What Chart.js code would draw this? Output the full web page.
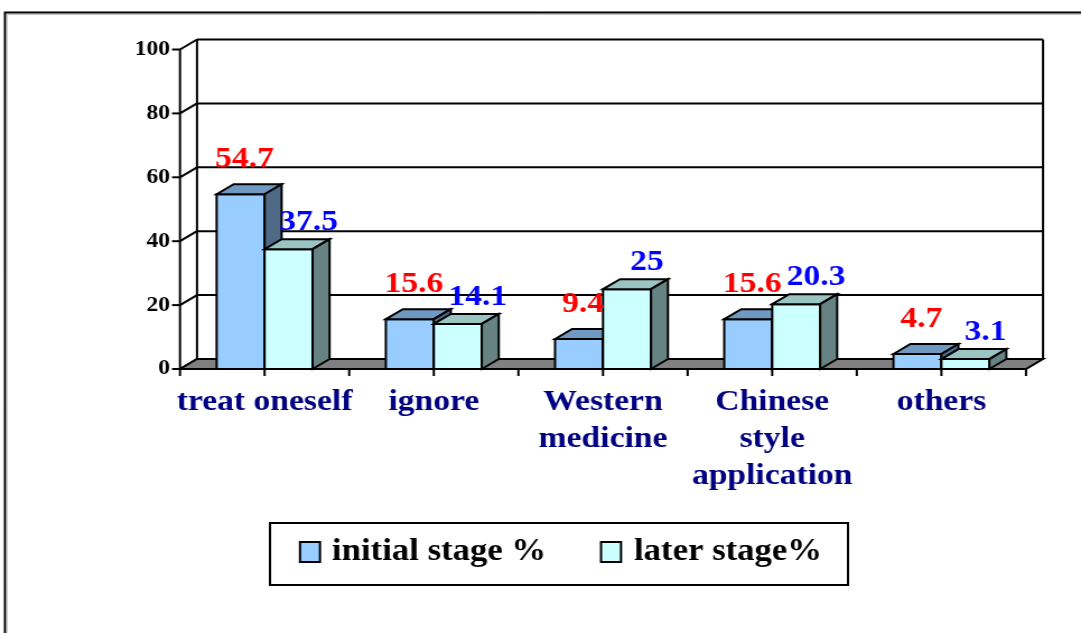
<!DOCTYPE html>
<html>
<head>
<meta charset="utf-8">
<script src="https://cdn.jsdelivr.net/npm/chart.js@4.4.1/dist/chart.umd.min.js"></script>
<style>
html,body{margin:0;padding:0;background:#fff;overflow:hidden}
canvas{display:block}
</style>
</head>
<body>
<canvas id="c" width="965" height="633" style="width:1081px;height:633px"></canvas>
<script>
// ---- data ----
const categories = [['treat oneself'], ['ignore'], ['Western', 'medicine'], ['Chinese', 'style', 'application'], ['others']];
const initialStage = [54.7, 15.6, 9.4, 15.6, 4.7];
const laterStage = [37.5, 14.1, 25, 20.3, 3.1];
const yTickValues = [0, 20, 40, 60, 80, 100];
const seriesNames = ['initial stage %', 'later stage%'];

// ---- style ----
const SX = 1081 / 965;            // horizontal stretch of the original picture
const FONT = "'Liberation Serif','Times New Roman',serif";
const DX = 17 / SX, DY = 10;      // 3-D depth offset
const palette = [
  { front: '#99CCFF', top: '#7099C2', side: '#4F6986', label: '#FF0000' },
  { front: '#CCFFFF', top: '#9AC4C1', side: '#668282', label: '#0000FF' }
];
const labelShift = [ { dx: 4 / SX, up: 25 }, { dx: 20 / SX, up: 17 } ];

function line(ctx, x1, y1, x2, y2) { ctx.beginPath(); ctx.moveTo(x1, y1); ctx.lineTo(x2, y2); ctx.stroke(); }

function drawBar(ctx, x1, x2, yTop, yBase, c) {
  ctx.lineWidth = 2; ctx.strokeStyle = '#000'; ctx.lineJoin = 'miter';
  ctx.fillStyle = c.front;
  ctx.beginPath(); ctx.rect(x1, yTop, x2 - x1, yBase - yTop); ctx.fill(); ctx.stroke();
  ctx.fillStyle = c.top;
  ctx.beginPath(); ctx.moveTo(x1, yTop); ctx.lineTo(x1 + DX, yTop - DY); ctx.lineTo(x2 + DX, yTop - DY); ctx.lineTo(x2, yTop); ctx.closePath(); ctx.fill(); ctx.stroke();
  ctx.fillStyle = c.side;
  ctx.beginPath(); ctx.moveTo(x2, yTop); ctx.lineTo(x2 + DX, yTop - DY); ctx.lineTo(x2 + DX, yBase - DY); ctx.lineTo(x2, yBase); ctx.closePath(); ctx.fill(); ctx.stroke();
}

const excel3d = {
  id: 'excel3d',
  beforeDraw(chart) {
    const { ctx, width, height } = chart;
    ctx.save();
    ctx.fillStyle = '#fff';
    ctx.fillRect(0, 0, width, height);
    ctx.strokeStyle = '#000'; ctx.lineWidth = 2;
    ctx.beginPath(); ctx.moveTo(5 / SX, height); ctx.lineTo(5 / SX, 12.5); ctx.lineTo(width, 12.5); ctx.stroke();
    ctx.strokeStyle = '#c0c0c0'; ctx.lineWidth = 1;
    ctx.beginPath(); ctx.moveTo(7 / SX, height); ctx.lineTo(7 / SX, 14.5); ctx.lineTo(width, 14.5); ctx.stroke();
    ctx.restore();
  },
  beforeDatasetsDraw(chart) {
    const ctx = chart.ctx;
    const ys = chart.scales.y;
    const L = chart.chartArea.left, R = chart.chartArea.right;
    const B = ys.getPixelForValue(0), T = ys.getPixelForValue(100);
    ctx.save();
    ctx.lineWidth = 2; ctx.strokeStyle = '#000'; ctx.lineCap = 'butt';
    // back wall gridlines, side wall lines and tick marks
    yTickValues.forEach(v => {
      const yy = ys.getPixelForValue(v);
      line(ctx, L + DX, yy - DY, R + DX, yy - DY);
      line(ctx, L, yy, L + DX, yy - DY);
      line(ctx, L - 8 / SX, yy, L, yy);
    });
    line(ctx, L + DX, T - DY, L + DX, B - DY);
    line(ctx, R + DX, T - DY, R + DX, B - DY);
    // floor
    ctx.fillStyle = '#808080';
    ctx.beginPath(); ctx.moveTo(L, B); ctx.lineTo(R, B); ctx.lineTo(R + DX, B - DY); ctx.lineTo(L + DX, B - DY); ctx.closePath();
    ctx.fill(); ctx.stroke();
    // front value axis
    line(ctx, L, T, L, B + 1);
    // category tick marks
    const n = categories.length * 2;
    for (let k = 0; k <= n; k++) {
      const xx = L + k * (R - L) / n;
      line(ctx, xx, B, xx, B + 7);
    }
    // bars
    const metas = chart.data.datasets.map((d, i) => chart.getDatasetMeta(i));
    for (let i = 0; i < categories.length; i++) {
      metas.forEach((m, d) => {
        const p = m.data[i].getProps(['x', 'y', 'base', 'width'], true);
        drawBar(ctx, p.x - p.width / 2, p.x + p.width / 2, p.y, p.base, palette[d]);
      });
    }
    // value labels
    ctx.font = 'bold 30px ' + FONT;
    ctx.textAlign = 'center'; ctx.textBaseline = 'middle';
    metas.forEach((m, d) => {
      const vals = chart.data.datasets[d].data;
      m.data.forEach((el, i) => {
        const p = el.getProps(['x', 'y'], true);
        ctx.fillStyle = palette[d].label;
        ctx.fillText(String(vals[i]), p.x + labelShift[d].dx, p.y - DY - labelShift[d].up);
      });
    });
    ctx.restore();
    return false;
  },
  afterDraw(chart) {
    const ctx = chart.ctx;
    ctx.save();
    ctx.lineWidth = 2; ctx.strokeStyle = '#000';
    ctx.strokeRect(270 / SX, 523, (848 - 270) / SX, 62);
    const sw = [300 / SX, 601 / SX], tx = [332 / SX, 634 / SX];
    ctx.font = 'bold 31px ' + FONT;
    ctx.textAlign = 'left'; ctx.textBaseline = 'alphabetic';
    seriesNames.forEach((name, d) => {
      ctx.fillStyle = palette[d].front;
      ctx.lineWidth = 2;
      ctx.fillRect(sw[d], 542, 20 / SX, 20);
      ctx.strokeRect(sw[d], 542, 20 / SX, 20);
      ctx.fillStyle = '#000';
      ctx.fillText(name, tx[d], 560);
    });
    ctx.restore();
  }
};

new Chart(document.getElementById('c'), {
  type: 'bar',
  data: {
    labels: categories,
    datasets: [
      { label: seriesNames[0], data: initialStage, backgroundColor: palette[0].front, categoryPercentage: 0.567, barPercentage: 1 },
      { label: seriesNames[1], data: laterStage, backgroundColor: palette[1].front, categoryPercentage: 0.567, barPercentage: 1 }
    ]
  },
  options: {
    responsive: false,
    animation: false,
    devicePixelRatio: 1,
    layout: { padding: { left: 0, top: 49.5, right: 965 - 1026 / SX, bottom: 633 - 369 - 150 } },
    plugins: { legend: { display: false }, tooltip: { enabled: false } },
    scales: {
      x: {
        grid: { display: false, drawTicks: false },
        border: { display: false },
        ticks: {
          autoSkip: false, maxRotation: 0, minRotation: 0, padding: 15,
          color: '#000080', font: { family: FONT, size: 30, weight: 'bold', lineHeight: 1.23 }
        },
        afterFit(s) { s.height = 150; }
      },
      y: {
        min: 0, max: 100,
        grid: { display: false, drawTicks: false },
        border: { display: false },
        ticks: {
          stepSize: 20, padding: 9, color: '#000',
          font: { family: FONT, size: 21, weight: 'bold' }
        },
        afterFit(s) { s.width = 180 / SX; }
      }
    }
  },
  plugins: [excel3d]
});
</script>
</body>
</html>
